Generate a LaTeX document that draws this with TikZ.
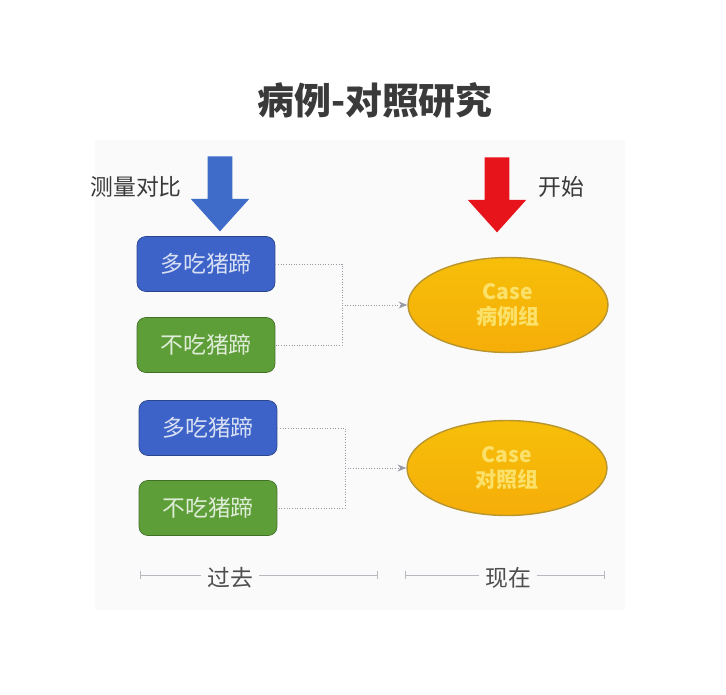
\documentclass[tikz,border=0pt]{standalone}
\usepackage{fontspec}
\setmainfont{Noto Sans CJK SC}
\usepackage{xcolor}
\usepackage{tikz}
\usetikzlibrary{arrows.meta,shapes.geometric,shapes.arrows}

\definecolor{boxblue}{HTML}{3D62C8}
\definecolor{boxgreen}{HTML}{5E9E38}
\definecolor{arrblue}{HTML}{3F6BC9}
\definecolor{arrred}{HTML}{E8141B}
\definecolor{gold}{HTML}{F5B30A}
\definecolor{goldline}{HTML}{B8952E}
\definecolor{txtgray}{HTML}{3A3A3A}
\definecolor{linegray}{HTML}{9A9AA6}

\begin{document}
\begin{tikzpicture}[x=0.02cm, y=-0.02cm,
      grp/.style={draw=boxblue!70!black, rounded corners=5pt, minimum width=2.76cm, minimum height=1.1cm, font=\fontsize{13}{15}\selectfont, text=white!80!boxblue},
      more/.style={grp, fill=boxblue},
      less/.style={grp, fill=boxgreen, draw=boxgreen!70!black, text=white!80!boxgreen},
      casegrp/.style={ellipse, draw=goldline, line width=0.8pt, top color=gold!85!yellow, bottom color=gold!90!orange, minimum width=4cm, minimum height=1.9cm, align=center, text=yellow!45!gold!60!white, font=\fontsize{12}{14}\selectfont\bfseries},
      bigarr/.style={single arrow, shape border rotate=270, minimum height=1.5cm, inner sep=0.24cm, single arrow head extend=0.34cm, single arrow tip angle=84, draw=none},
      lbl/.style={text=txtgray, font=\fontsize{13}{15}\selectfont},
      link/.style={linegray, densely dotted, line width=0.5pt},
      feed/.style={link, -{Stealth[length=5pt, width=4pt]}},
      tline/.style={linegray!70, line width=0.5pt},
    ]
    \useasboundingbox (0,0) rectangle (726,695);
    \fill[white] (0,0) rectangle (726,695);
    \fill[gray!4] (95,140) rectangle (625,610);

    \node[font=\fontsize{21}{24}\selectfont\bfseries, text=txtgray] (title) at (375,100) {病例-对照研究};

    \node[bigarr, fill=arrblue] (measure) at (220,187) {};
    \node[bigarr, fill=arrred] (start) at (497,188) {};
    \node[lbl] (measurelbl) at (136,187) {测量对比};
    \node[lbl] (startlbl) at (561,187) {开始};

    \node[more] (more1) at (206,264) {多吃猪蹄};
    \node[less] (less1) at (206,345) {不吃猪蹄};
    \node[more] (more2) at (208,428) {多吃猪蹄};
    \node[less] (less2) at (208,508) {不吃猪蹄};

    \node[casegrp] (case1) at (508,305) {Case\\病例组};
    \node[casegrp] (case2) at (507,468) {Case\\对照组};

    \coordinate (join1) at (342,305);
    \coordinate (join2) at (345,468);
    \draw[link] (more1.east) -| (join1);
    \draw[link] (join1) |- (less1.east);
    \draw[feed] (join1) -- (case1.west);
    \draw[link] (more2.east) -| (join2);
    \draw[link] (join2) |- (less2.east);
    \draw[feed] (join2) -- (case2.west);

    \node[lbl, text=txtgray!90] (past) at (230,578) {过去};
    \node[lbl, text=txtgray!90] (now) at (508,578) {现在};
    \coordinate (pastL) at (140,575);
    \coordinate (pastR) at (378,575);
    \coordinate (nowL) at (405,575);
    \coordinate (nowR) at (605,575);
    \draw[tline, {Bar[width=5pt]}-] (pastL) -- (past.west |- pastL);
    \draw[tline, -{Bar[width=5pt]}] (past.east |- pastR) -- (pastR);
    \draw[tline, {Bar[width=5pt]}-] (nowL) -- (now.west |- nowL);
    \draw[tline, -{Bar[width=5pt]}] (now.east |- nowR) -- (nowR);
  \end{tikzpicture}
\end{document}
